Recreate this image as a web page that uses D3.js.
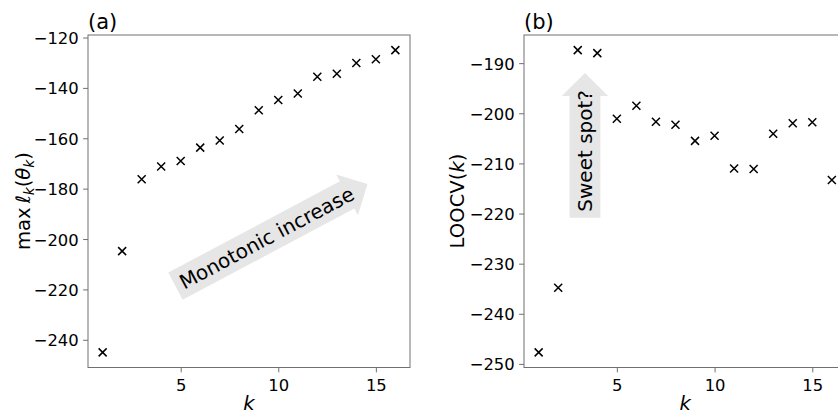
<!DOCTYPE html>
<html>
<head>
<meta charset="utf-8">
<script src="https://cdn.jsdelivr.net/npm/d3@7"></script>
<style>
  html, body { margin: 0; padding: 0; background: #fff; }
  svg { display: block; font-family: "DejaVu Sans", sans-serif; }
</style>
</head>
<body>
<svg id="fig" width="838" height="414"></svg>
<script>
// Number of mixture components
const kValues = [1, 2, 3, 4, 5, 6, 7, 8, 9, 10, 11, 12, 13, 14, 15, 16];
// (a) maximised log-likelihood for each k
const maxLogLik = [-245.0, -204.8, -176.3, -171.2, -169.0, -163.7, -160.9, -156.3,
                   -148.9, -144.8, -142.2, -135.6, -134.4, -130.1, -128.6, -125.0];
// (b) leave-one-out cross-validation score for each k
const loocv = [-247.7, -234.8, -187.4, -188.0, -201.1, -198.5, -201.7, -202.3,
               -205.5, -204.5, -211.0, -211.1, -204.1, -202.0, -201.8, -213.3];

const xTicks = [5, 10, 15];
const yTicksA = [-240, -220, -200, -180, -160, -140, -120];
const yTicksB = [-250, -240, -230, -220, -210, -200, -190];

const svg = d3.select("#fig");
const SPINE = "#707070";
const TICK_FS = 16.4, LABEL_FS = 19.6, TITLE_FS = 21, NOTE_FS = 20;
const minus = v => String(v).replace("-", "\u2212");

// matplotlib-style 5% autoscale margins
function padded(vals) {
  const [lo, hi] = d3.extent(vals);
  const m = (hi - lo) * 0.05;
  return [lo - m, hi + m];
}

function panel(opts) {
  const { left, right, top, bottom, values, yTicks, title } = opts;
  const x = d3.scaleLinear().domain(padded(kValues)).range([left, right]);
  const y = d3.scaleLinear().domain(padded(values)).range([bottom, top]);
  const g = svg.append("g");

  // spines
  g.append("rect")
    .attr("x", left).attr("y", top)
    .attr("width", right - left).attr("height", bottom - top)
    .attr("fill", "none").attr("stroke", SPINE).attr("stroke-width", 1);

  const xa = g.append("g").attr("transform", `translate(0,${bottom})`)
    .call(d3.axisBottom(x).tickValues(xTicks).tickSize(4.9).tickPadding(4.9).tickFormat(d3.format("d")));
  const ya = g.append("g").attr("transform", `translate(${left},0)`)
    .call(d3.axisLeft(y).tickValues(yTicks).tickSize(4.9).tickPadding(4.4).tickFormat(minus));
  [xa, ya].forEach(a => {
    a.select(".domain").remove();
    a.selectAll(".tick line").attr("stroke", SPINE).attr("stroke-width", 1);
    a.selectAll(".tick text").attr("fill", "#000").attr("font-size", TICK_FS)
      .attr("font-family", "DejaVu Sans");
  });
  xa.selectAll(".tick text").attr("dy", null).attr("y", 0)
    .attr("transform", `translate(0,${bottom > 0 ? 23.5 : 0})`);
  ya.selectAll(".tick text").attr("dy", "0.365em");

  // x markers
  const s = 4;
  g.append("g").selectAll("path").data(kValues.map((k, i) => [k, values[i]]))
    .join("path")
    .attr("d", d => {
      const cx = x(d[0]), cy = y(d[1]);
      return `M${cx - s},${cy - s}L${cx + s},${cy + s}M${cx - s},${cy + s}L${cx + s},${cy - s}`;
    })
    .attr("stroke", "#000").attr("stroke-width", 1.5).attr("fill", "none");

  // title
  g.append("text").attr("x", left).attr("y", top - 6)
    .attr("font-size", TITLE_FS).text(title);

  // x label
  g.append("text").attr("x", (left + right) / 2).attr("y", 410)
    .attr("text-anchor", "middle").attr("font-size", LABEL_FS)
    .attr("font-style", "italic").text("k");

  return { g, x, y };
}

// Right-pointing arrow box (like matplotlib's "rarrow" boxstyle) behind a text label
function arrowLabel(g, cx, cy, angle, label) {
  const grp = g.append("g").attr("transform", `translate(${cx},${cy}) rotate(${-angle})`);
  const path = grp.append("path").attr("fill", "#e6e6e6").attr("stroke", "none");
  const t = grp.append("text").attr("text-anchor", "middle")
    .attr("font-size", NOTE_FS).attr("dy", "0.36em").text(label);
  const w = t.node().getComputedTextLength();
  const h = 0.94 * NOTE_FS;
  const p = 0.3 * NOTE_FS;
  const x0 = -w / 2 - p, x1 = w / 2 + p, y0 = -h / 2 - p, y1 = h / 2 + p;
  const dx = (y1 - y0) / 2, dxx = dx / 2;
  const xa = x0 + p / 1.4;
  // left-arrow outline, mirrored to point right
  const pts = [[xa + dxx, y0], [x1, y0], [x1, y1], [xa + dxx, y1],
               [xa + dxx, y1 + dxx], [xa - dx, y0 + dx], [xa + dxx, y0 - dxx]]
    .map(([px, py]) => [-px, py]);
  path.attr("d", d3.line()(pts) + "Z");
}

const plotTop = 35, plotBottom = 367.5;
const A = panel({ left: 88, right: 410, top: plotTop, bottom: plotBottom, values: maxLogLik, yTicks: yTicksA, title: "(a)" });
const B = panel({ left: 524, right: 846.5, top: plotTop, bottom: plotBottom, values: loocv, yTicks: yTicksB, title: "(b)" });

// y labels
const ylA = A.g.append("text").attr("transform", "translate(30,201) rotate(-90)")
  .attr("text-anchor", "middle").attr("font-size", LABEL_FS);
ylA.append("tspan").text("max\u2009");
ylA.append("tspan").attr("font-style", "italic").text("\u2113");
ylA.append("tspan").attr("font-style", "italic").attr("font-size", LABEL_FS * 0.7).attr("dy", 4).text("k");
ylA.append("tspan").attr("dy", -4).text("(");
ylA.append("tspan").attr("font-style", "italic").text("\u03b8");
ylA.append("tspan").attr("font-style", "italic").attr("font-size", LABEL_FS * 0.7).attr("dy", 4).text("k");
ylA.append("tspan").attr("dy", -4).text(")");

const ylB = B.g.append("text").attr("transform", "translate(463.5,201) rotate(-90)")
  .attr("text-anchor", "middle").attr("font-size", LABEL_FS);
ylB.append("tspan").text("LOOCV(");
ylB.append("tspan").attr("font-style", "italic").text("k");
ylB.append("tspan").text(")");

// annotations
arrowLabel(A.g, A.x(9.4), A.y(-199.5), 28, "Monotonic increase");
arrowLabel(B.g, B.x(3.37), B.y(-207.5), 90, "Sweet spot?");
</script>
</body>
</html>
